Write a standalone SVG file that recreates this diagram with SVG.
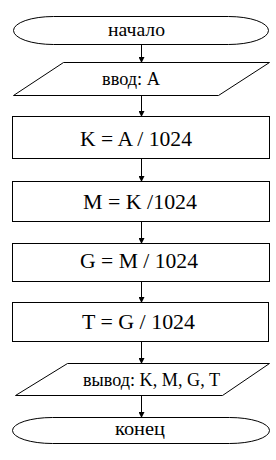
<svg xmlns="http://www.w3.org/2000/svg" width="276" height="460" viewBox="0 0 276 460">
<defs>
<marker id="ah" markerWidth="6" markerHeight="6" refX="5" refY="3" orient="auto" markerUnits="userSpaceOnUse">
<path d="M0,0 L6,3 L0,6 Z" fill="#000"/>
</marker>
<style>
.s{fill:#fff;stroke:#000;stroke-width:1}
.t{font-family:"Liberation Serif","DejaVu Serif",serif;font-size:18px;fill:#000;text-anchor:middle}
.b{font-family:"Liberation Serif","DejaVu Serif",serif;font-size:22px;fill:#000;text-anchor:middle}
.c{stroke:#000;stroke-width:1;fill:none;marker-end:url(#ah)}
</style>
</defs>
<rect width="276" height="460" fill="#fff"/>
<g id="connectors">
<line class="c" x1="141.5" y1="44" x2="141.5" y2="62"/>
<line class="c" x1="141.5" y1="95" x2="141.5" y2="116"/>
<line class="c" x1="141.5" y1="159" x2="141.5" y2="181"/>
<line class="c" x1="141.5" y1="221" x2="141.5" y2="243"/>
<line class="c" x1="141.5" y1="281" x2="141.5" y2="302"/>
<line class="c" x1="141.5" y1="341" x2="141.5" y2="363"/>
<line class="c" x1="141.5" y1="395" x2="141.5" y2="417"/>
</g>
<g id="start">
<rect class="s" x="13.5" y="16.5" width="255" height="28" rx="40" ry="14"/>
<text class="t" x="136.5" y="36" textLength="57" lengthAdjust="spacingAndGlyphs">начало</text>
</g>
<g id="input">
<polygon class="s" points="63.5,62.5 269.5,62.5 218.5,95.5 13.5,95.5"/>
<text class="t" x="131" y="85" textLength="58" lengthAdjust="spacingAndGlyphs">ввод: A</text>
</g>
<g id="k">
<rect class="s" x="12.5" y="116.5" width="257" height="42"/>
<text class="b" x="136" y="146" textLength="112" lengthAdjust="spacingAndGlyphs">K = A / 1024</text>
</g>
<g id="m">
<rect class="s" x="12.5" y="181.5" width="257" height="40"/>
<text class="b" x="140" y="209" textLength="114" lengthAdjust="spacingAndGlyphs">M = K /1024</text>
</g>
<g id="g">
<rect class="s" x="12.5" y="243.5" width="257" height="38"/>
<text class="b" x="139" y="268" textLength="118" lengthAdjust="spacingAndGlyphs">G = M / 1024</text>
</g>
<g id="t">
<rect class="s" x="12.5" y="302.5" width="256" height="39"/>
<text class="b" x="138.5" y="329" textLength="113" lengthAdjust="spacingAndGlyphs">T = G / 1024</text>
</g>
<g id="output">
<polygon class="s" points="67.5,363.5 269.5,363.5 222.5,395.5 15.5,395.5"/>
<text class="t" x="151.5" y="386" textLength="137" lengthAdjust="spacingAndGlyphs">вывод: K, M, G, T</text>
</g>
<g id="end">
<rect class="s" x="12.5" y="417.5" width="257" height="26" rx="40" ry="13"/>
<text class="t" x="140" y="435" textLength="50" lengthAdjust="spacingAndGlyphs">конец</text>
</g>
</svg>
